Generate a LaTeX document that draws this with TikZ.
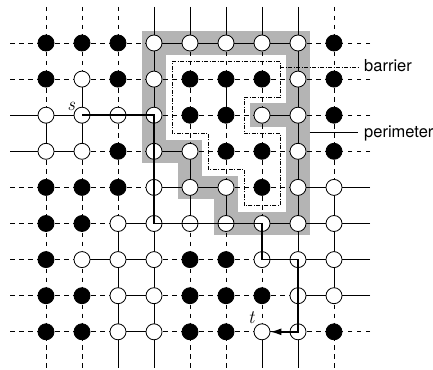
\documentclass[tikz,border=0pt]{standalone}
\usepackage{fontspec}
\setsansfont{TeX Gyre Heros}
\usetikzlibrary{arrows.meta}
\definecolor{bandgray}{RGB}{180,180,180}
\begin{document}
\begin{tikzpicture}[x=36pt,y=-36.1pt,
  gridline/.style={line width=0.8pt},
  edge 1/.style={gridline},
  edge 0/.style={gridline, dash pattern=on 4.5pt off 4.5pt},
  site/.style={circle, draw, line width=0.8pt, minimum size=16pt, inner sep=0pt},
  site 1/.style={site, fill=white},
  site 0/.style={site, fill=black},
  band/.style={draw=bandgray, line width=23.5pt, line join=miter},
  barrierline/.style={line width=0.6pt, dash pattern=on 4pt off 1.6pt on 0.8pt off 1.6pt},
  route/.style={line width=1.4pt},
  tag/.style={font=\sffamily\fontsize{16.5}{18}\selectfont, inner sep=0pt, inner xsep=6pt},
  endpoint/.style={font=\fontsize{19}{21}\selectfont\itshape, inner sep=0pt}]
\useasboundingbox (-0.27778,-0.19114) rectangle (11.75,10.0305);

% site states, row by row: 1 = open, 0 = blocked
\foreach \r [count=\i] in {
  {0,0,0,1,1,1,1,1,0},
  {0,1,0,1,0,0,0,1,0},
  {1,1,1,1,0,0,1,1,0},
  {1,1,0,1,1,0,0,1,0},
  {0,0,0,1,1,1,0,1,1},
  {0,0,1,1,1,1,1,1,1},
  {0,1,1,1,0,0,1,1,1},
  {0,0,1,1,0,0,0,1,1},
  {0,0,1,1,0,0,1,1,0}}{
  \foreach \v [count=\j] in \r {
    \expandafter\xdef\csname st-\i-\j\endcsname{\v}
    \coordinate (p-\i-\j) at (\j,\i);
  }
}
% free ends of the lattice lines
\foreach \k in {1,...,9}{
  \coordinate (L-\k) at (0,\k);
  \coordinate (R-\k) at (10,\k);
  \coordinate (T-\k) at (\k,0);
  \coordinate (B-\k) at (\k,10);
}

% perimeter band
\draw[band] (p-1-4) -- (p-4-4) -- (p-4-5) -- (p-5-5) -- (p-5-6) -- (p-6-6)
  -- (p-6-8) -- (p-1-8) -- cycle;
\draw[band, line cap=rect] (p-3-8) -- (p-3-7);

% lattice bonds: solid between two open sites, dashed otherwise
\foreach \i in {1,...,9}{
  \foreach \j [evaluate=\j as \k using int(\j+1)] in {1,...,8}{
    \pgfmathtruncatemacro\hb{\csname st-\i-\j\endcsname*\csname st-\i-\k\endcsname}
    \draw[edge \hb] (p-\i-\j) -- (p-\i-\k);
    \pgfmathtruncatemacro\vb{\csname st-\j-\i\endcsname*\csname st-\k-\i\endcsname}
    \draw[edge \vb] (p-\j-\i) -- (p-\k-\i);
  }
  \pgfmathtruncatemacro\a{\csname st-\i-1\endcsname}
  \draw[edge \a] (L-\i) -- (p-\i-1);
  \pgfmathtruncatemacro\a{\csname st-\i-9\endcsname}
  \draw[edge \a] (R-\i) -- (p-\i-9);
  \pgfmathtruncatemacro\a{\csname st-1-\i\endcsname}
  \draw[edge \a] (T-\i) -- (p-1-\i);
  \pgfmathtruncatemacro\a{\csname st-9-\i\endcsname}
  \draw[edge \a] (B-\i) -- (p-9-\i);
}
\draw[edge 1] (p-2-6) -- (p-3-6);

% barrier around the blocked cluster
\draw[barrierline] (4.5,1.5) -- (7.5,1.5) -- (7.5,2.5) -- (6.5,2.5) -- (6.5,3.5)
  -- (7.5,3.5) -- (7.5,5.5) -- (6.5,5.5) -- (6.5,4.5) -- (5.5,4.5) -- (5.5,3.5)
  -- (4.5,3.5) -- cycle;

% sites
\foreach \i in {1,...,9}{
  \foreach \j in {1,...,9}{
    \pgfmathtruncatemacro\a{\csname st-\i-\j\endcsname}
    \node[site \a] (n-\i-\j) at (p-\i-\j) {};
  }
}

% route from s to t
\draw[route, -{Latex[length=11pt,width=7pt]}] (n-3-2.center) -- (n-3-4.center)
  -- (n-6-4.center) -- (n-6-7.center) -- (n-7-7.center) -- (n-7-8.center)
  -- (n-9-8.center) -- (n-9-7);

% end point labels
\node[endpoint] (s label) at (1.70,2.76) {s};
\node[endpoint] (t label) at (6.70,8.62) {t};

% callouts
\node[tag, anchor=base west] (barrier label) at (9.667,1.79) {barrier};
\coordinate (barrier tap) at (7.5,1.665);
\draw[barrierline] (barrier tap) -- (barrier tap -| barrier label.west);
\node[tag, anchor=base west] (perimeter label) at (9.667,3.604) {perimeter};
\coordinate (band tap) at (8.326,3.465);
\draw[gridline] (band tap) -- (band tap -| perimeter label.west);
\end{tikzpicture}
\end{document}
